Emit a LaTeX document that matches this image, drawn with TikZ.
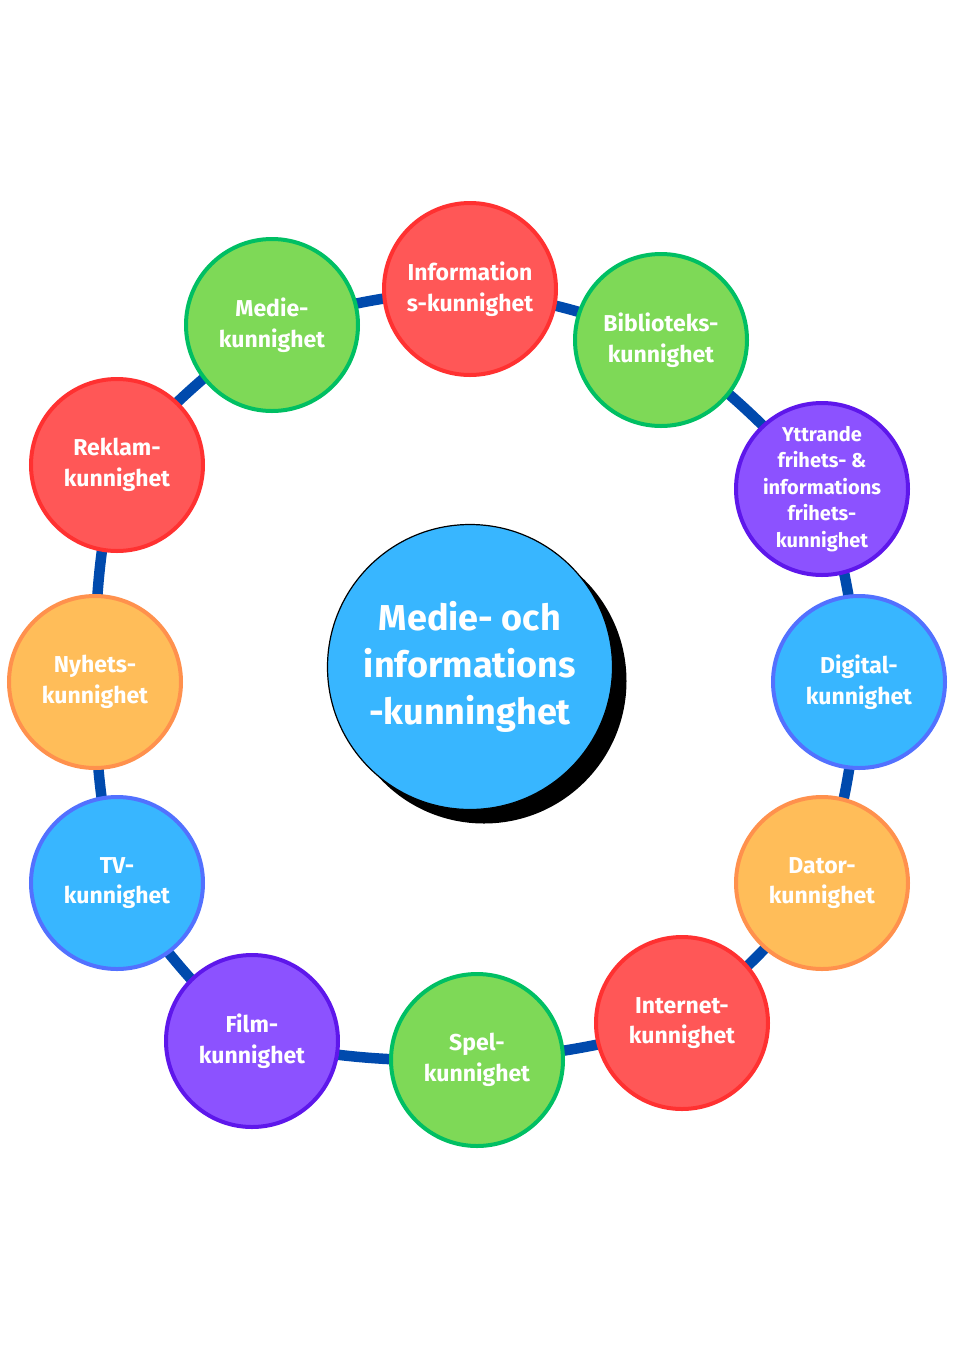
\documentclass[tikz,border=0pt]{standalone}
\usepackage{fontspec}
\setmainfont{Fira Sans}
\usetikzlibrary{backgrounds}
\definecolor{ring}{HTML}{004AAD}
\definecolor{redfill}{HTML}{FF5757}
\definecolor{redline}{HTML}{FF3131}
\definecolor{greenfill}{HTML}{7ED957}
\definecolor{greenline}{HTML}{00BF63}
\definecolor{purplefill}{HTML}{8C52FF}
\definecolor{purpleline}{HTML}{5E17EB}
\definecolor{bluefill}{HTML}{38B6FF}
\definecolor{blueline}{HTML}{5271FF}
\definecolor{orangefill}{HTML}{FFBD59}
\definecolor{orangeline}{HTML}{FF914D}
\tikzset{
  every node/.style={font=\fontsize{23}{30.5}\selectfont\bfseries, text=white},
  skill/.style={circle, line width=4pt, minimum size=172pt, inner sep=0pt, align=center},
  red/.style={skill, draw=redline, fill=redfill},
  green/.style={skill, draw=greenline, fill=greenfill},
  purple/.style={skill, draw=purpleline, fill=purplefill},
  blue/.style={skill, draw=blueline, fill=bluefill},
  orange/.style={skill, draw=orangeline, fill=orangefill},
  link/.style={draw=ring, line width=10.5pt},
  hub/.style={circle, draw=black, line width=1.2pt, fill=bluefill, minimum size=285pt,
              inner sep=0pt, align=center, font=\fontsize{36}{47}\selectfont\bfseries},
}

\begin{document}
\begin{tikzpicture}[x=1pt,y=-1pt]
\useasboundingbox (0,0) rectangle (954,1350);

% ================= centre =================
\fill[black] (484,681) circle (142.5);
\node[hub] (hub) at (470,667) {Medie- och\\informations\\-kunninghet};

% ================= ring of skills =================
\node[red]    (info)   at (470,289)  {Information\\s-kunnighet};
\node[green]  (bibl)   at (661,340)  {Biblioteks-\\kunnighet};
\node[purple, font=\fontsize{20}{26.5}\selectfont\bfseries]
              (yttr)   at (822,489)  {Yttrande\\frihets- \&\\informations\\frihets-\\kunnighet};
\node[blue]   (digi)   at (859,682)  {Digital-\\kunnighet};
\node[orange] (dator)  at (822,883)  {Dator-\\kunnighet};
\node[red]    (inet)   at (682,1023) {Internet-\\kunnighet};
\node[green]  (spel)   at (477,1060) {Spel-\\kunnighet};
\node[purple] (film)   at (252,1041) {Film-\\kunnighet};
\node[blue]   (tv)     at (117,883)  {TV-\\kunnighet};
\node[orange] (nyhet)  at (95,682)   {Nyhets-\\kunnighet};
\node[red]    (reklam) at (117,465)  {Reklam-\\kunnighet};
\node[green]  (medie)  at (272,325)  {Medie-\\kunnighet};

% connectors run behind the circles
\begin{scope}[on background layer]
\foreach \a/\b in {info/bibl, bibl/yttr, yttr/digi, digi/dator, dator/inet, inet/spel,
                   spel/film, film/tv, tv/nyhet, nyhet/reklam, reklam/medie, medie/info}
  \draw[link] (\a.center) to[bend left=6] (\b.center);
\end{scope}

\end{tikzpicture}
\end{document}
